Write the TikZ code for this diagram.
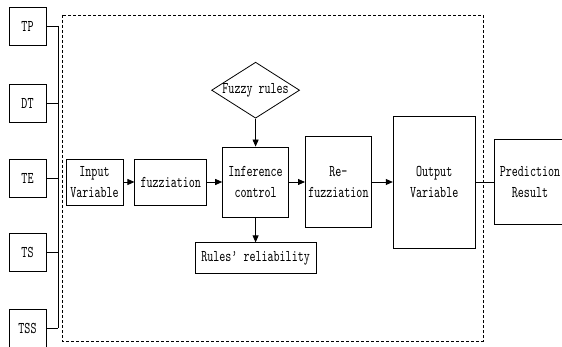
\documentclass[tikz,border=0pt]{standalone}
\usepackage{fontspec}
\newfontfamily\diafont[FakeStretch=0.7]{lmmono10-regular.otf}
\usetikzlibrary{positioning,arrows.meta,shapes.geometric}
\tikzset{
  box/.style={draw,align=center,inner sep=2pt,line width=0.8pt,font=\diafont\fontsize{16.4}{21}\selectfont},
  rulebox/.style={draw,diamond,aspect=1.57,inner sep=0pt,line width=0.8pt,font=\diafont\fontsize{16.4}{21}\selectfont},
  arr/.style={-{Triangle[length=7pt,width=6pt]},line width=0.8pt},
  link/.style={line width=0.8pt}
}
\begin{document}
\begin{tikzpicture}[x=1pt,y=-1pt]
\useasboundingbox (0,0) rectangle (562,347);
% main chain
\node[box, minimum width=57pt, minimum height=46pt] (input) at (94.5,182) {Input\\Variable};
\node[box, right=11pt of input, minimum width=72pt, minimum height=46pt] (fuzz) {fuzziation};
\node[box, right=15pt of fuzz, minimum width=66pt, minimum height=70pt] (infer) {Inference\\control};
\node[box, right=16pt of infer, minimum width=66pt, minimum height=91pt] (refuzz) {Re-\\fuzziation};
\node[box, right=21pt of refuzz, minimum width=82pt, minimum height=132pt] (output) {Output\\Variable};
\node[box, right=18pt of output, minimum width=72pt, minimum height=85pt] (pred) {Prediction\\Result};
\node[rulebox, above=28pt of infer, minimum width=88pt, minimum height=56pt] (rules) {Fuzzy rules};
\node[box, below=25pt of infer, minimum width=121pt, minimum height=31pt] (reliab) {Rules’ reliability};
\draw[arr] (input) -- (fuzz);
\draw[arr] (fuzz) -- (infer);
\draw[arr] (infer) -- (refuzz);
\draw[arr] (refuzz) -- (output);
\draw[link] (output) -- (pred);
\draw[arr] (rules) -- (infer);
\draw[arr] (infer) -- (reliab);
% factors on the left
\coordinate (bus) at (58,0);
\foreach \lab/\yy in {TP/26,DT/103,TE/178,TS/252.5,TSS/328}{
  \node[box, minimum width=37pt, minimum height=38pt] (\lab) at (27.5,\yy) {\lab};
  \draw[link] (\lab.east) -- (\lab.east -| bus);
}
\draw[link] (bus |- TP.east) -- (bus |- TSS.east);
% model frame
\draw[dash pattern=on 3pt off 2pt, line width=0.8pt] (62,15) rectangle (483,341);
\end{tikzpicture}
\end{document}
